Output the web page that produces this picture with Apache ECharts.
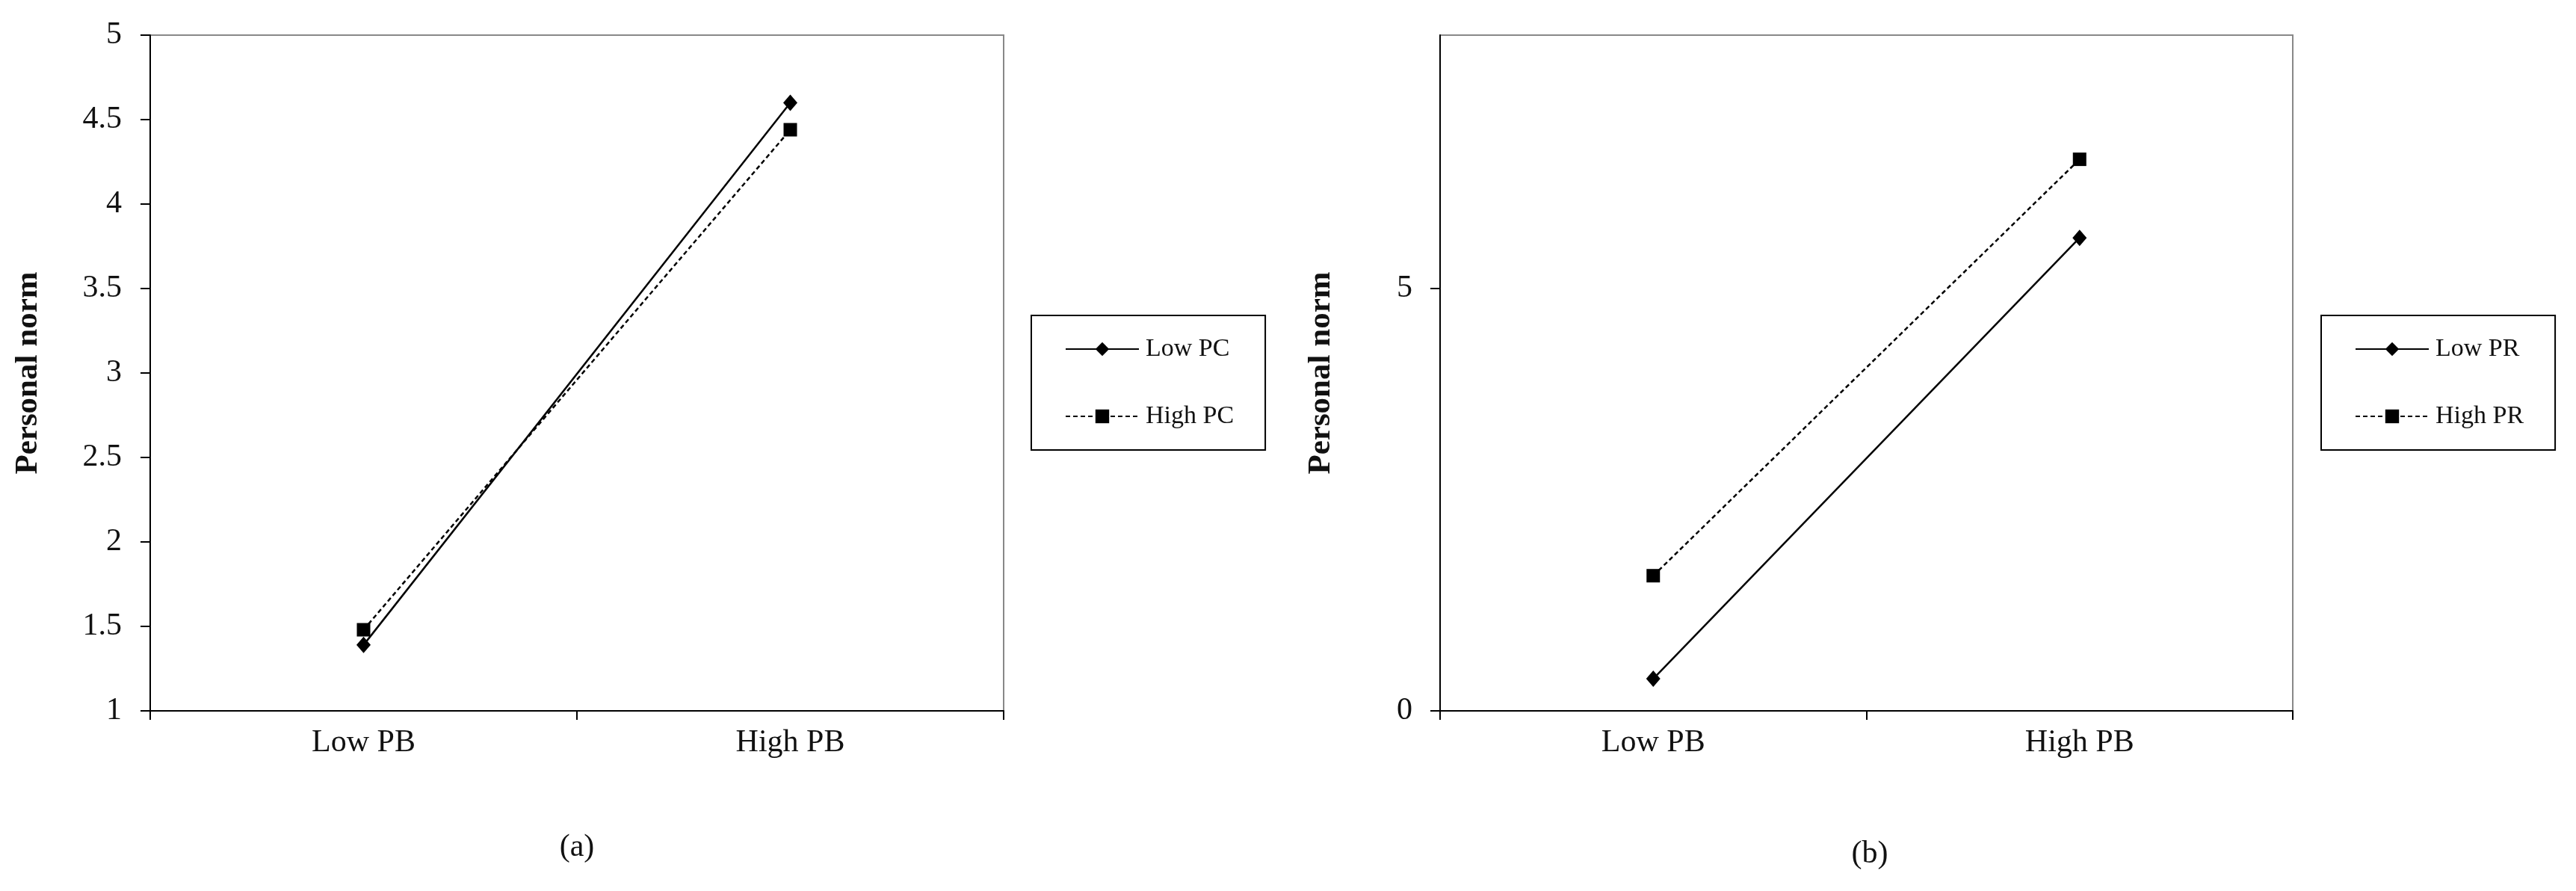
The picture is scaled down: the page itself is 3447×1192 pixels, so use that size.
<!DOCTYPE html>
<html><head><meta charset="utf-8">
<script src="https://cdn.jsdelivr.net/npm/echarts@6/dist/echarts.min.js"></script>
<style>html,body{margin:0;padding:0;background:#fff}#c{width:3447px;height:1192px}</style>
</head><body><div id="c"></div>
<script>
const categories = ['Low PB', 'High PB'];
// panel (a)
const lowPC = [1.39, 4.60];
const highPC = [1.48, 4.44];
const yTicksA = {min: 1, max: 5, interval: 0.5};
// panel (b)
const lowPR = [0.38, 5.60];
const highPR = [1.60, 6.53];
const yTicksB = [0, 5];
const yMaxB = 8;
const yName = 'Personal norm';
const panelLabels = ['(a)', '(b)'];

const FONT = 'Liberation Serif';
const black = '#000';
const axisCommonX = (gi) => ({
  type: 'category', gridIndex: gi, data: categories, boundaryGap: true,
  axisLine: {show: true, lineStyle: {color: black, width: 2}},
  axisTick: {show: true, interval: 0, alignWithLabel: false, length: 12, lineStyle: {color: black, width: 2}},
  axisLabel: {color: '#111', fontFamily: FONT, fontSize: 42, margin: 22},
  splitLine: {show: false}
});
const yNameCommon = {
  name: yName, nameLocation: 'middle', nameRotate: 90,
  nameTextStyle: {fontFamily: FONT, fontWeight: 'bold', fontSize: 43, color: '#111'}
};
const lineSeries = (name, data, gi, symbol, dashed) => ({
  name, type: 'line', xAxisIndex: gi, yAxisIndex: gi, data,
  symbol, symbolSize: symbol === 'diamond' ? [19, 22] : 18,
  itemStyle: {color: black},
  lineStyle: {color: black, width: 2.5, type: dashed ? [6, 4] : 'solid'},
  emphasis: {disabled: true}, animation: false
});
const legendCommon = {
  orient: 'vertical', itemWidth: 98, itemHeight: 23, itemGap: 56,
  borderColor: black, borderWidth: 2, padding: [28, 42, 28, 45],
  textStyle: {fontFamily: FONT, fontSize: 34, color: '#111', padding: [0, 0, 0, 4]},
  backgroundColor: '#fff'
};

const chart = echarts.init(document.getElementById('c'), null, {renderer: 'canvas'});
chart.setOption({
  backgroundColor: '#fff',
  animation: false,
  title: [
    {text: panelLabels[0], left: 767, top: 1108, textAlign: 'center',
     textStyle: {fontFamily: FONT, fontWeight: 'normal', fontSize: 42, color: '#111'}},
    {text: panelLabels[1], left: 2497, top: 1117, textAlign: 'center',
     textStyle: {fontFamily: FONT, fontWeight: 'normal', fontSize: 42, color: '#111'}}
  ],
  grid: [
    {left: 201, top: 47, width: 1142, height: 904, show: true, borderColor: '#888', borderWidth: 2, backgroundColor: '#fff'},
    {left: 1927, top: 47, width: 1141, height: 904, show: true, borderColor: '#888', borderWidth: 2, backgroundColor: '#fff'}
  ],
  xAxis: [axisCommonX(0), axisCommonX(1)],
  yAxis: [
    Object.assign({
      type: 'value', gridIndex: 0, min: yTicksA.min, max: yTicksA.max, interval: yTicksA.interval,
      axisLine: {show: true, lineStyle: {color: black, width: 2}},
      axisTick: {show: true, length: 13, lineStyle: {color: black, width: 2}},
      axisLabel: {color: '#111', fontFamily: FONT, fontSize: 42, margin: 38},
      splitLine: {show: false}, nameGap: 142
    }, yNameCommon),
    Object.assign({
      type: 'value', gridIndex: 1, min: 0, max: yMaxB, interval: 5,
      axisLine: {show: true, lineStyle: {color: black, width: 2}},
      axisTick: {show: true, length: 13, customValues: yTicksB, lineStyle: {color: black, width: 2}},
      axisLabel: {color: '#111', fontFamily: FONT, fontSize: 42, margin: 37, customValues: yTicksB},
      splitLine: {show: false}, nameGap: 138
    }, yNameCommon)
  ],
  legend: [
    Object.assign({left: 1380, top: 422, data: ['Low PC', 'High PC']}, legendCommon),
    Object.assign({left: 3106, top: 422, data: ['Low PR', 'High PR']}, legendCommon)
  ],
  series: [
    lineSeries('Low PC', lowPC, 0, 'diamond', false),
    lineSeries('High PC', highPC, 0, 'rect', true),
    lineSeries('Low PR', lowPR, 1, 'diamond', false),
    lineSeries('High PR', highPR, 1, 'rect', true)
  ]
});
</script>
</body></html>
